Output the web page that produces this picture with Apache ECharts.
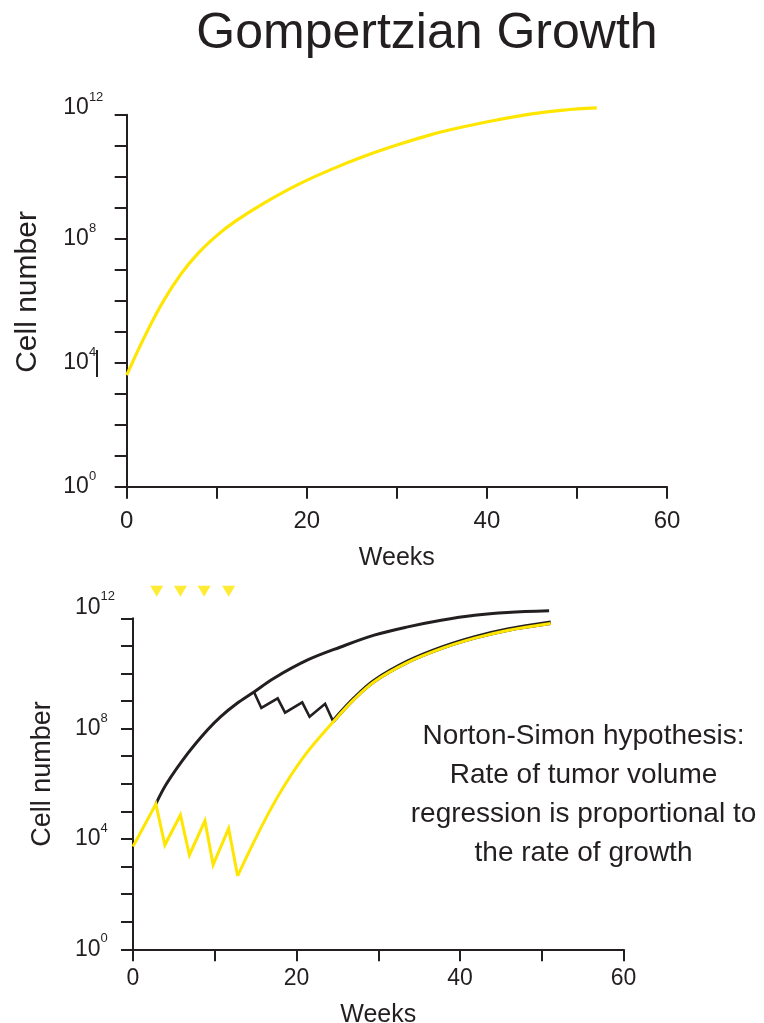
<!DOCTYPE html>
<html>
<head>
<meta charset="utf-8">
<script src="https://cdn.jsdelivr.net/npm/echarts@6/dist/echarts.min.js"></script>
<style>
  html, body { margin: 0; padding: 0; background: #ffffff; }
  #chart { width: 764px; height: 1023px; }
</style>
</head>
<body>
<div id="chart"></div>
<script>
// Cell counts are stored as log10(cell number); the y axes run from 10^0 to 10^12.

// Upper panel: untreated Gompertzian growth
const growthWeeks    = [0, 2, 4, 6, 8, 10, 12, 15.2, 18.9, 22.6, 26.3, 30.0, 33.7, 37.4, 41.1, 44.8, 48.5, 52.2];
const growthLogCells = [3.6, 4.85, 5.95, 6.85, 7.55, 8.1, 8.55, 9.14, 9.73, 10.22, 10.65, 11.02, 11.35, 11.61, 11.83, 12.02, 12.15, 12.22];

// Lower panel: early treatment of a small tumour (yellow)
const earlyCycleWeeks    = [0, 2.8, 3.9, 5.8, 6.9, 8.8, 9.8, 11.7, 12.8];
const earlyCycleLogCells = [3.73, 5.27, 3.78, 4.87, 3.42, 4.66, 3.06, 4.38, 2.66];
const regrowthWeeks      = [12.8, 14.7, 16.7, 18.7, 21.2, 24.5, 27, 29.5, 33.6, 37.7, 41.8, 45.8, 51.1];
const regrowthLogCells   = [2.66, 3.84, 5.0, 6.02, 7.1, 8.25, 9.05, 9.7, 10.4, 10.9, 11.28, 11.56, 11.81];

// Lower panel: untreated growth and late treatment of a large tumour (black)
const untreatedWeeks     = [2.8, 4.1, 6.7, 9.1, 10.7, 12.7, 14.8, 17.2, 21.3, 25.4, 29.5, 33.6, 37.7, 41.8, 45.8, 50.9];
const untreatedLogCells  = [5.27, 6.0, 7.1, 7.95, 8.43, 8.91, 9.33, 9.82, 10.48, 10.96, 11.39, 11.69, 11.93, 12.11, 12.21, 12.27];
const lateCycleWeeks     = [14.8, 15.7, 17.7, 18.6, 20.7, 21.6, 23.5, 24.5];
const lateCycleLogCells  = [9.33, 8.75, 9.10, 8.58, 8.95, 8.43, 8.90, 8.25];
const lateRegrowthWeeks    = [24.5, 27, 29.5, 33.6, 37.7, 41.8, 45.8, 51.1];
const lateRegrowthLogCells = [8.25, 9.05, 9.7, 10.4, 10.9, 11.28, 11.56, 11.81];

// Treatment doses (triangles above the lower panel)
const doseWeeks = [2.9, 5.8, 8.7, 11.7];
const doseMarkerLevel = 12.98;

// Axis labels
const xLabelWeeks = [0, 20, 40, 60];
const yLabelExponents = [0, 4, 8, 12];

const FONT = '"Liberation Sans", Arial, Helvetica, sans-serif';
const INK = '#231f20';
const YELLOW = '#ffe600';

const pairs = (xs, ys) => xs.map((x, i) => [x, ys[i]]);

function xAxisFor(gridIndex, labelSize, labelMargin, nameGap, nameSize) {
  return {
    type: 'value', gridIndex, min: 0, max: 60, interval: 10,
    name: 'Weeks', nameLocation: 'middle', nameGap,
    nameTextStyle: { fontFamily: FONT, fontSize: nameSize, color: INK },
    axisLine: { show: true, onZero: false, lineStyle: { color: INK, width: 2 } },
    axisTick: { show: true, length: 12, lineStyle: { color: INK, width: 2 } },
    splitLine: { show: false },
    axisLabel: {
      margin: labelMargin, fontFamily: FONT, fontSize: labelSize, color: INK,
      formatter: v => xLabelWeeks.includes(Math.round(v)) ? String(Math.round(v)) : ''
    }
  };
}

function yAxisFor(gridIndex, margin, baseSize, topLift) {
  return {
    type: 'value', gridIndex, min: 0, max: 12, interval: 1,
    axisLine: { show: true, lineStyle: { color: INK, width: 2 } },
    axisTick: { show: true, length: 12, lineStyle: { color: INK, width: 2 } },
    splitLine: { show: false },
    axisLabel: {
      margin, align: 'left', color: INK,
      formatter: v => {
        const n = Math.round(v);
        if (!yLabelExponents.includes(n)) return '';
        const label = '{b|10}{s|' + n + '}';
        // the top label sits a little above its tick
        return n === yLabelExponents[yLabelExponents.length - 1] ? label + '\n{gap| }' : label;
      },
      rich: {
        b:   { fontFamily: FONT, fontSize: baseSize, color: INK, lineHeight: 34 },
        s:   { fontFamily: FONT, fontSize: 13, color: INK, verticalAlign: 'top' },
        gap: { fontFamily: FONT, fontSize: 4, lineHeight: topLift * 2 }
      }
    }
  };
}

function curve(name, xs, ys, color, width, smooth, extra) {
  return Object.assign({
    name, type: 'line', xAxisIndex: 1, yAxisIndex: 1,
    data: pairs(xs, ys), showSymbol: false, clip: false,
    smooth: smooth ? 0.35 : false,
    lineStyle: { color, width, join: 'miter' }
  }, extra || {});
}

const chart = echarts.init(document.getElementById('chart'), null, { renderer: 'canvas' });

chart.setOption({
  backgroundColor: '#ffffff',
  animation: false,
  grid: [
    { left: 126.7, right: 97, top: 114.7, height: 372, containLabel: false, outerBoundsMode: 'none' },
    { left: 133, right: 140.5, top: 618.3, height: 331, containLabel: false, outerBoundsMode: 'none' }
  ],
  xAxis: [
    xAxisFor(0, 24, 23, 59, 25),
    xAxisFor(1, 23, 18, 53, 25)
  ],
  yAxis: [
    yAxisFor(0, 63.4, 23, 7),
    yAxisFor(1, 58, 23, 11)
  ],
  series: [
    Object.assign(curve('Gompertzian growth', growthWeeks, growthLogCells, YELLOW, 3.2, true),
      { xAxisIndex: 0, yAxisIndex: 0 }),
    curve('Untreated', untreatedWeeks, untreatedLogCells, INK, 3, true, { z: 2 }),
    curve('Late treatment', lateCycleWeeks, lateCycleLogCells, INK, 2.6, false, { z: 2 }),
    curve('Late regrowth', lateRegrowthWeeks, lateRegrowthLogCells, INK, 3, true, {
      z: 2,
      lineStyle: { color: INK, width: 3, shadowColor: INK, shadowOffsetY: -1.5, shadowBlur: 0 }
    }),
    curve('Early treatment', earlyCycleWeeks, earlyCycleLogCells, YELLOW, 3, false, { z: 3 }),
    curve('Early regrowth', regrowthWeeks, regrowthLogCells, YELLOW, 3, true, { z: 3 }),
    {
      name: 'Doses', type: 'scatter', xAxisIndex: 1, yAxisIndex: 1, clip: false,
      data: doseWeeks.map(w => [w, doseMarkerLevel]),
      symbol: 'triangle', symbolRotate: 180, symbolSize: [13, 11],
      itemStyle: { color: YELLOW }, silent: true
    }
  ],
  graphic: [
    {
      type: 'text', x: 427, y: 34,
      style: { text: 'Gompertzian Growth', font: '50px ' + FONT, fill: INK, textAlign: 'center', textVerticalAlign: 'middle' }
    },
    {
      type: 'text', x: 28, y: 292, rotation: Math.PI / 2,
      style: { text: 'Cell number', font: '30px ' + FONT, fill: INK, textAlign: 'center', textVerticalAlign: 'middle' }
    },
    {
      type: 'text', x: 42.5, y: 774, rotation: Math.PI / 2,
      style: { text: 'Cell number', font: '27px ' + FONT, fill: INK, textAlign: 'center', textVerticalAlign: 'middle' }
    },
    {
      type: 'line', shape: { x1: 97, y1: 350, x2: 97, y2: 377 },
      style: { stroke: INK, lineWidth: 2 }
    },
    {
      type: 'text', x: 583.5, y: 716.5,
      style: {
        text: 'Norton-Simon hypothesis:\nRate of tumor volume\nregression is proportional to\nthe rate of growth',
        font: '28px ' + FONT, lineHeight: 39, fill: INK, textAlign: 'center', textVerticalAlign: 'top'
      }
    }
  ]
});
</script>
</body>
</html>
